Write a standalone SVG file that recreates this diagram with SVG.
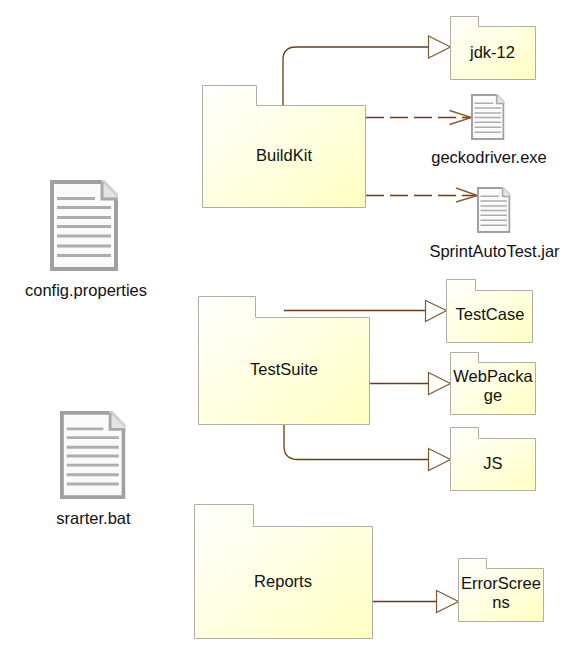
<svg xmlns="http://www.w3.org/2000/svg" width="570" height="648" viewBox="0 0 570 648">
<style>
.pkg{fill:url(#yg);stroke:#b0aea4;stroke-width:1}
.t{font-family:"Liberation Sans",Arial,sans-serif;font-size:16.500px;fill:#111;text-anchor:middle}
.c{fill:none;stroke:#6b3d14;stroke-width:1.300}
.d{stroke-dasharray:18 6}
.h{fill:#fff;stroke:#7d5a36;stroke-width:1.200}
.o{fill:none;stroke:#8a5a30;stroke-width:1.400}
</style>
<defs>
<linearGradient id="yg" x1="0" y1="0" x2="1" y2="1">
<stop offset="0" stop-color="#ffffff"/><stop offset="0.500" stop-color="#ffffe2"/><stop offset="1" stop-color="#ffffc2"/>
</linearGradient>
<symbol id="doc" viewBox="0 0 68 91" preserveAspectRatio="none">
<path d="M2 2H53L66 16V89H2Z" fill="#fafafa" stroke="#a0a0a0" stroke-width="4"/>
<path d="M52 0L68 16V19H52Z" fill="#e4e4e4"/>
<path d="M52 0L68 16" fill="none" stroke="#cfcfcf" stroke-width="3"/>
<path d="M52 2V19H68" fill="none" stroke="#a8a8a8" stroke-width="3"/>
<g stroke="#adadad" stroke-width="3">
<path d="M7 18.500H45M7 27.500H61M7 37.500H61M7 46.500H61M7 56H61M7 66H61M7 75.500H61"/>
</g>
</symbol>
</defs>
<g id="connectors">
<path class="c" d="M283 105V60Q283 47 296 47H428.500"/>
<path class="h" d="M428.500 36L450.500 47L428.500 58Z"/>
<path class="c d" d="M366 117.500H471"/>
<path class="o" d="M449.500 110.500L471.500 117.500L449.500 124.500"/>
<path class="c d" d="M366 195.500H477"/>
<path class="o" d="M456 188L477.500 195.500L456 202"/>
<path class="c" d="M284 310.500H425.500"/>
<path class="h" d="M425.500 300.500L446.500 310.500L425.500 321.500Z"/>
<path class="c" d="M370 383.500H428.500"/>
<path class="h" d="M428.500 372.500L450.500 383.500L428.500 394.500Z"/>
<path class="c" d="M284 425V446Q284 459.500 298 459.500H428.500"/>
<path class="h" d="M428.500 448.500L450.500 459.500L428.500 470.500Z"/>
<path class="c" d="M373 601.500H436.500"/>
<path class="h" d="M436.500 590.500L458.500 601.500L436.500 612.500Z"/>
</g>
<g id="BuildKit"><path class="pkg" d="M202.500 85.500H256.500V105.500H365.500V207.500H202.500Z"/><text class="t" x="284" y="161">BuildKit</text></g>
<g id="jdk-12"><path class="pkg" d="M450.500 16.500H478.500V26.500H535.500V79.500H450.500Z"/><text class="t" x="492.500" y="58">jdk-12</text></g>
<g id="geckodriver"><use href="#doc" x="471" y="94" width="33.500" height="46"/><text class="t" x="489" y="163">geckodriver.exe</text></g>
<g id="SprintAutoTest"><use href="#doc" x="477" y="187" width="33.500" height="46"/><text class="t" x="494.500" y="257">SprintAutoTest.jar</text></g>
<g id="config"><use href="#doc" x="50" y="180" width="68" height="91"/><text class="t" x="86" y="296">config.properties</text></g>
<g id="srarter"><use href="#doc" x="60" y="411" width="65.500" height="88"/><text class="t" x="93.500" y="524">srarter.bat</text></g>
<g id="TestSuite"><path class="pkg" d="M198.500 296.500H255.500V317.500H369.500V424.500H198.500Z"/><text class="t" x="284" y="375">TestSuite</text></g>
<g id="TestCase"><path class="pkg" d="M446.500 279.500H475.500V290.500H532.500V342.500H446.500Z"/><text class="t" x="490" y="320">TestCase</text></g>
<g id="WebPackage"><path class="pkg" d="M450.500 352.500H478.500V362.500H535.500V414.500H450.500Z"/><text class="t" x="493" y="382">WebPacka</text><text class="t" x="493" y="401">ge</text></g>
<g id="JS"><path class="pkg" d="M450.500 427.500H478.500V438.500H535.500V490.500H450.500Z"/><text class="t" x="493" y="469">JS</text></g>
<g id="Reports"><path class="pkg" d="M194.500 504.500H253.500V526.500H372.500V638.500H194.500Z"/><text class="t" x="283" y="587">Reports</text></g>
<g id="ErrorScreens"><path class="pkg" d="M458.500 558.500H486.500V568.500H543.500V621.500H458.500Z"/><text class="t" x="501" y="589">ErrorScree</text><text class="t" x="501" y="608">ns</text></g>
</svg>
